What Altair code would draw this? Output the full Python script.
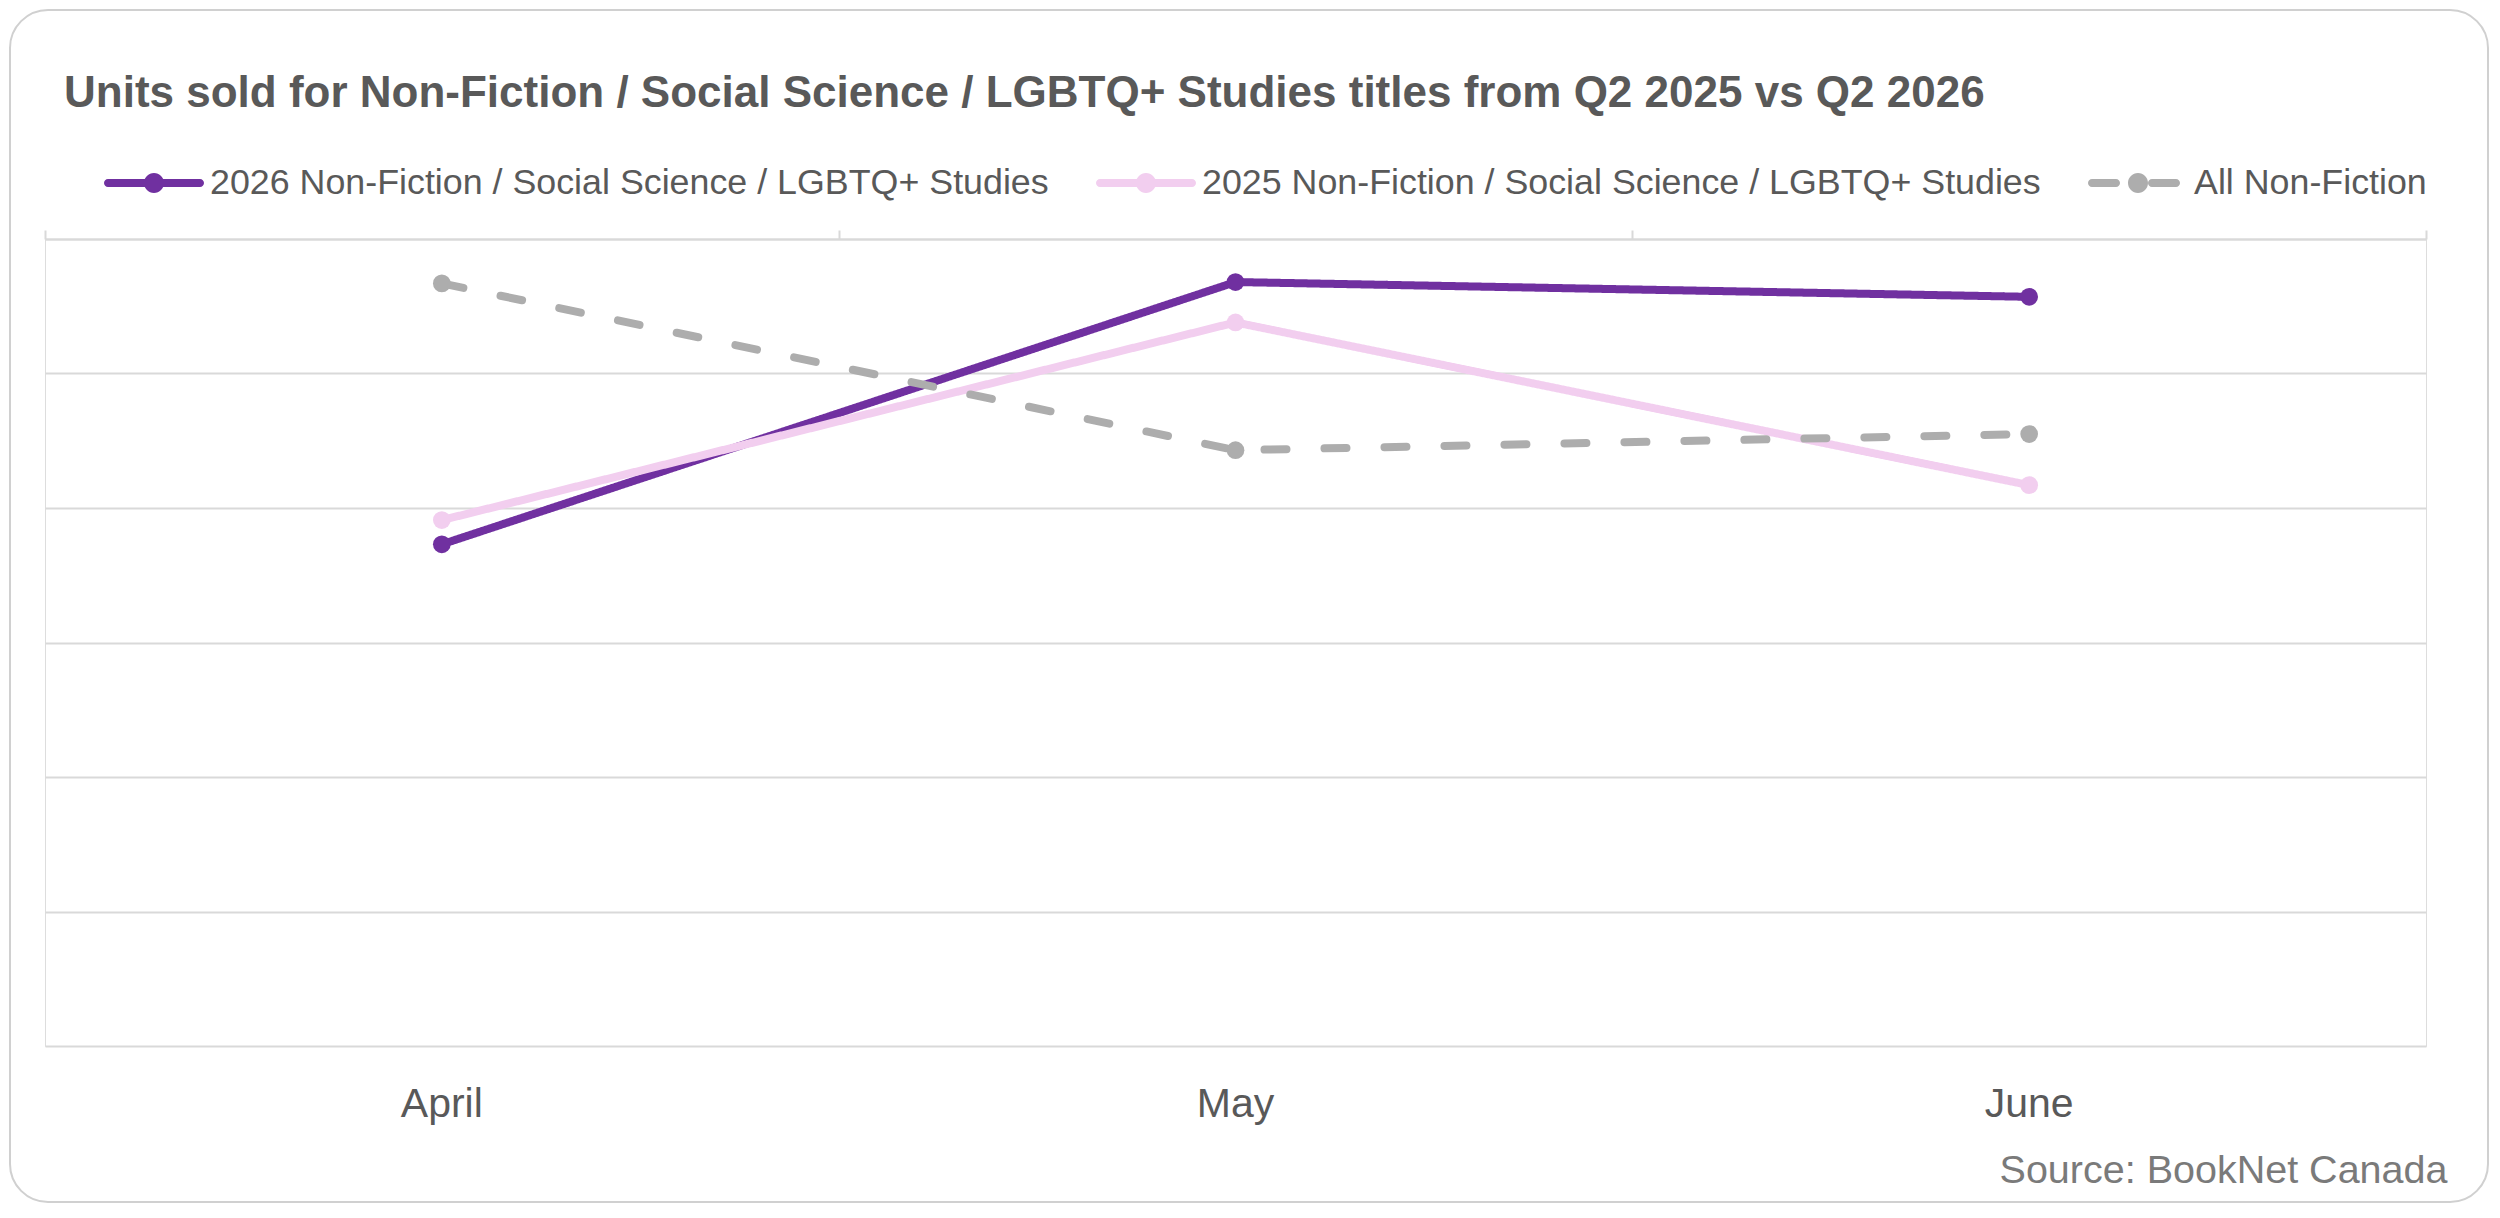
import altair as alt
import pandas as pd

# ---- data (arbitrary units; y axis is unlabeled) ----
months = ["April", "May", "June"]
series_names = [
    "2026 Non-Fiction / Social Science / LGBTQ+ Studies",
    "2025 Non-Fiction / Social Science / LGBTQ+ Studies",
    "All Non-Fiction",
]
values_2026 = [3.73, 5.68, 5.57]
values_2025 = [3.91, 5.38, 4.17]
values_all = [5.67, 4.43, 4.55]
colors = ["#7030A0", "#F2CEEF", "#ADADAD"]
title_text = "Units sold for Non-Fiction / Social Science / LGBTQ+ Studies titles from Q2 2025 vs Q2 2026"
source_text = "Source: BookNet Canada"

rows = []
for name, vals in zip(series_names, [values_2026, values_2025, values_all]):
    for m, v in zip(months, vals):
        rows.append({"month": m, "series": name, "value": v})
df = pd.DataFrame(rows)

FONT = "Liberation Sans, Arial, sans-serif"
TEXT = "#595959"
GRID = "#D9D9D9"

# legend symbols (line + marker), unit box [-1, 1] -> 100 px
solid_sym = ("M-0.92,-0.08 H0.92 A0.08,0.08 0 0 1 0.92,0.08 H-0.92 A0.08,0.08 0 0 1 -0.92,-0.08 Z "
             "M0.2,0 A0.2,0.2 0 1 1 -0.2,0 A0.2,0.2 0 1 1 0.2,0 Z")
dash_sym = ("M-0.92,-0.08 H-0.44 A0.08,0.08 0 0 1 -0.44,0.08 H-0.92 A0.08,0.08 0 0 1 -0.92,-0.08 Z "
            "M0.28,-0.08 H0.76 A0.08,0.08 0 0 1 0.76,0.08 H0.28 A0.08,0.08 0 0 1 0.28,-0.08 Z "
            "M0.2,0 A0.2,0.2 0 1 1 -0.2,0 A0.2,0.2 0 1 1 0.2,0 Z")

xscale = alt.Scale(type="band", domain=months, paddingInner=0, paddingOuter=0)
yscale = alt.Scale(domain=[0, 6], nice=False, zero=True)
color_scale = alt.Scale(domain=series_names, range=colors)

y_enc = alt.Y("value:Q", scale=yscale,
              axis=alt.Axis(values=[0, 1, 2, 3, 4, 5, 6], grid=True, gridColor=GRID, gridWidth=2,
                            labels=False, ticks=False, domain=False, title=None))

legend_def = alt.Legend(title=None, orient="none", direction="horizontal",
                        legendX=59, legendY=-106, padding=0,
                        symbolSize=10000, symbolStrokeWidth=0, symbolOpacity=1,
                        labelFont=FONT, labelFontSize=35.8, labelColor=TEXT,
                        labelLimit=3000, labelOffset=6, columnPadding=47)

base = alt.Chart(df)

lines = base.mark_line(strokeWidth=8, strokeCap="round", strokeJoin="round").encode(
    x=alt.X("month:N", scale=xscale, sort=months, bandPosition=0.5,
            axis=alt.Axis(orient="bottom", labels=True, ticks=False, tickSize=0, domain=False, grid=False,
                          labelFont=FONT, labelFontSize=41, labelColor=TEXT, labelAngle=0,
                          labelBaseline="alphabetic", labelPadding=70,
                          title=source_text, titleFont=FONT, titleFontSize=39.5, titleFontWeight="normal",
                          titleColor="#7A7A7A", titleX=2402, titleY=136, titleAlign="right",
                          titleAnchor="end", titleBaseline="alphabetic")),
    y=y_enc,
    color=alt.Color("series:N", scale=color_scale, legend=None),
    strokeDash=alt.StrokeDash("series:N", scale=alt.Scale(domain=series_names,
                                                          range=[[1, 0], [1, 0], [22, 38]]), legend=None),
    detail="series:N",
)

points = base.mark_circle(size=314, opacity=1).encode(
    x=alt.X("month:N", scale=xscale, sort=months, bandPosition=0.5,
            axis=alt.Axis(orient="top", labels=False, ticks=True, tickBand="extent", tickSize=9,
                          tickColor=GRID, tickWidth=2, domain=True, domainColor=GRID, domainWidth=2,
                          grid=False, title=None)),
    y=y_enc,
    color=alt.Color("series:N", scale=color_scale, legend=None),
)

legend_driver = base.mark_point(filled=True, opacity=0).encode(
    x=alt.X("month:N", scale=xscale, sort=months, bandPosition=0.5, axis=None),
    y=y_enc,
    color=alt.Color("series:N", scale=color_scale, legend=legend_def),
    shape=alt.Shape("series:N", scale=alt.Scale(domain=series_names,
                                                range=[solid_sym, solid_sym, dash_sym]),
                    legend=legend_def),
)

border = alt.Chart(pd.DataFrame({"k": [0]})).mark_rect(
    fill="white", fillOpacity=0, stroke="#D0D0D0", strokeWidth=2, cornerRadius=38
).encode(x=alt.value(-35), x2=alt.value(2443), y=alt.value(-229), y2=alt.value(963))

chart = alt.layer(border, lines, points, legend_driver).resolve_axis(
    x="independent"
).resolve_legend(color="independent", shape="independent", strokeDash="independent").properties(
    width=2381, height=807,
    padding={"left": 37, "top": 231, "right": 64, "bottom": 158},
    autosize=alt.AutoSizeParams(type="none"),
    title=alt.TitleParams(text=title_text, anchor="start", frame="group", dx=19, offset=-142,
                          baseline="alphabetic", font=FONT, fontSize=44, fontWeight="bold", color=TEXT),
).configure_view(stroke=None).configure(background="white")

chart.save("out.html", embed_options={"renderer": "svg", "actions": False})
